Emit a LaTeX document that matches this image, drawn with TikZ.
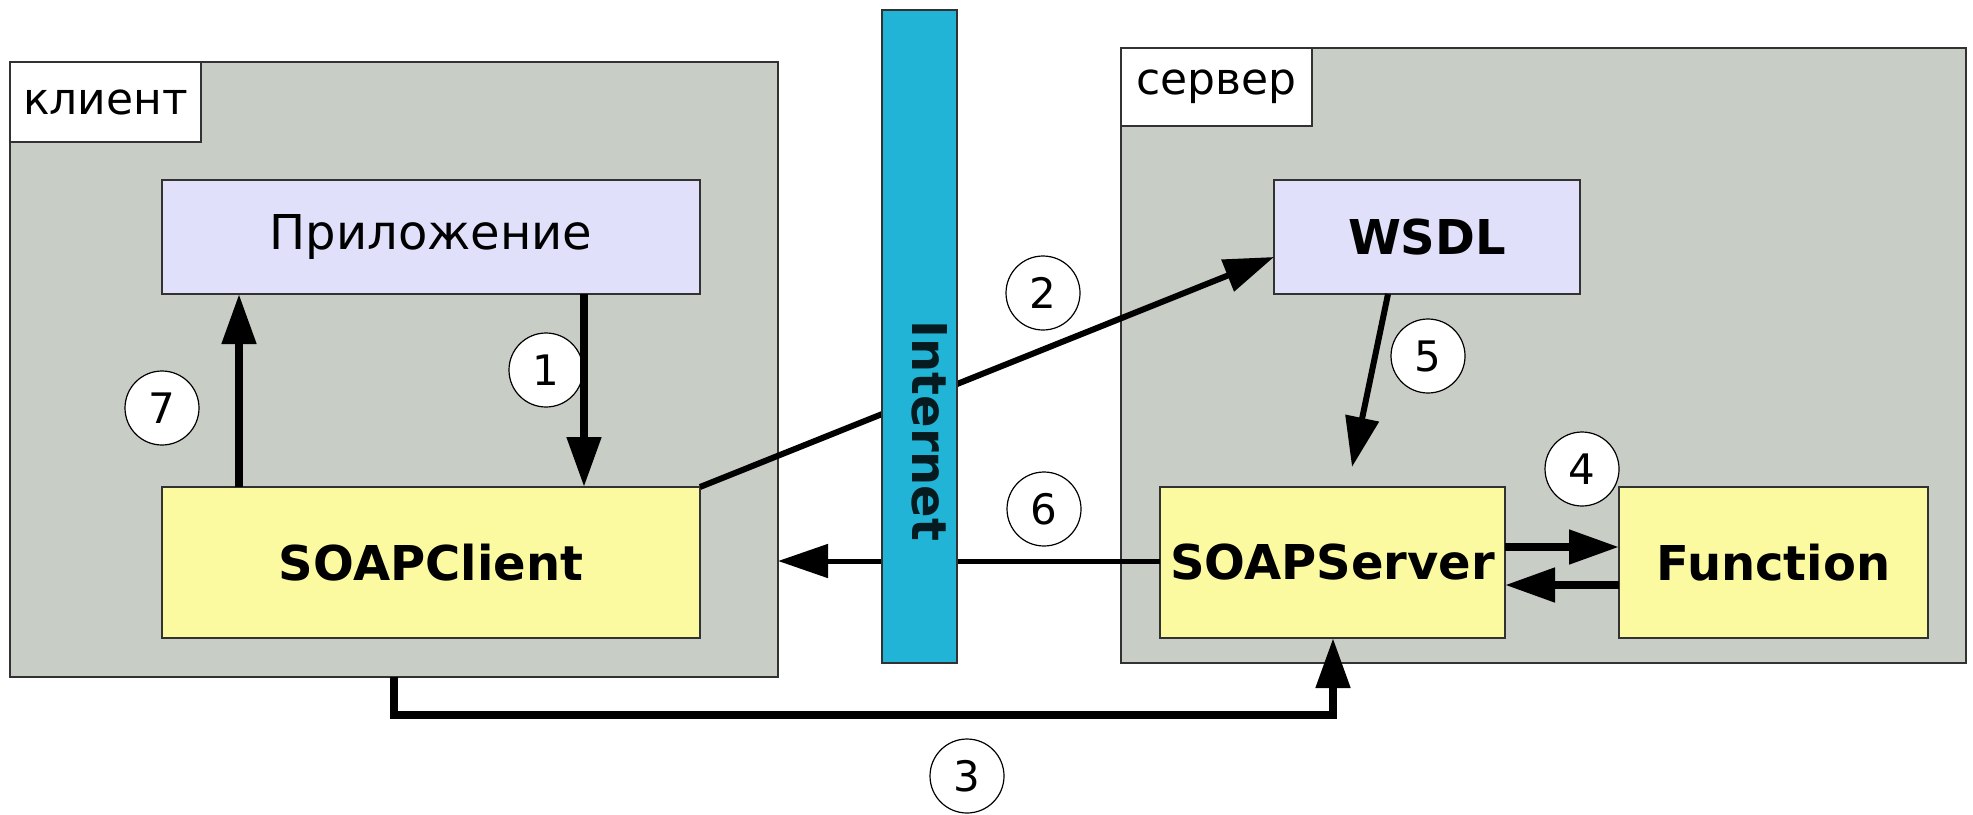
\documentclass[tikz,border=0pt]{standalone}
\usepackage{fontspec}
\setmainfont{DejaVu Sans}
\usetikzlibrary{arrows.meta}
\definecolor{bggray}{RGB}{200,205,198}
\definecolor{lav}{RGB}{224,224,250}
\definecolor{paleyel}{RGB}{252,250,160}
\definecolor{netblue}{RGB}{34,180,215}
\definecolor{edgegray}{RGB}{50,50,50}
\tikzset{
  area/.style={draw=edgegray, line width=1pt, fill=bggray, inner sep=0pt, outer sep=0pt},
  tag/.style={draw=edgegray, line width=1pt, fill=white, inner sep=0pt, outer sep=0pt,
    font=\fontsize{22pt}{26pt}\selectfont},
  blue box/.style={draw=edgegray, line width=1pt, fill=lav, inner sep=0pt, outer sep=0pt},
  yel box/.style={draw=edgegray, line width=1pt, fill=paleyel, inner sep=0pt, outer sep=0pt,
    font=\fontsize{24pt}{28pt}\selectfont\bfseries},
  num/.style={circle, draw=black, line width=0.6pt, fill=white, minimum size=37pt, inner sep=0pt,
    font=\fontsize{21pt}{25pt}\selectfont},
  arr/.style={-{Triangle[length=25pt,width=16.5pt]}, line width=4pt, black},
}
\begin{document}
\begin{tikzpicture}[x=0.5pt, y=-0.5pt]
\fill[white] (0,0) rectangle (1973,814);
\useasboundingbox (0,0) rectangle (1973,814);
% areas
\node[area, minimum width=384pt, minimum height=307.5pt] (client) at (394,369.5) {};
\node[area, minimum width=422.5pt, minimum height=307.5pt] (server) at (1543.5,355.5) {};
\node[tag, minimum width=95.5pt, minimum height=40pt] (clientlbl) at (105.5,102) {клиент};
\node[tag, minimum width=95.5pt, minimum height=39pt] (serverlbl) at (1216.5,87) {сервер};
% boxes
\node[blue box, minimum width=269pt, minimum height=57pt, font=\fontsize{24pt}{28pt}\selectfont] (app) at (431,237) {Приложение};
\node[yel box, minimum width=269pt, minimum height=75.5pt] (sclient) at (431,562.5) {SOAPClient};
\node[blue box, minimum width=153pt, minimum height=57pt, font=\fontsize{24pt}{28pt}\selectfont\bfseries] (wsdl) at (1427,237) {WSDL};
\node[yel box, minimum width=172.5pt, minimum height=75.5pt] (sserver) at (1332.5,562.5) {SOAPServer};
\node[yel box, minimum width=154.5pt, minimum height=75.5pt] (func) at (1773.5,562.5) {Function};
% step numbers
\node[num] (n1) at (546,370) {1};
\node[num] (n7) at (162,408) {7};
\node[num] (n2) at (1043,293) {2};
\node[num] (n5) at (1428,356) {5};
\node[num] (n4) at (1582,469) {4};
\node[num] (n6) at (1044,509) {6};
\node[num] (n3) at (967,776) {3};
% helper coordinates
\coordinate (a1) at (584,0);
\coordinate (a7) at (239,0);
\coordinate (w2) at ([yshift=-10pt]wsdl.west);
\coordinate (a5x) at (1388,0);
\coordinate (a5e) at (1352,467);
\coordinate (f1) at (0,547);
\coordinate (f2) at (0,585);
\coordinate (a6) at (0,561);
\coordinate (a3) at (394,715);
\coordinate (a3e) at (1333,0);
% connectors
\draw[arr] (app.south -| a1) -- (sclient.north -| a1);
\draw[arr] (sclient.north -| a7) -- (app.south -| a7);
\draw[arr, line width=3pt] (sclient.north east) -- (w2);
\draw[arr, line width=3pt] (wsdl.south -| a5x) -- (a5e);
\draw[arr] (sserver.east |- f1) -- (func.west |- f1);
\draw[arr] (func.west |- f2) -- (sserver.east |- f2);
\draw[arr, line width=2.5pt] (sserver.west |- a6) -- (client.east |- a6);
\draw[arr] (client.south -| a3) -- (a3) -| (sserver.south -| a3e);
% internet bar
\node[draw=edgegray, line width=1pt, fill=netblue, minimum width=37.5pt, minimum height=326.5pt, inner sep=0pt] (inet) at (919.5,336.5) {};
\node[rotate=-90, inner sep=0pt, font=\fontsize{24pt}{28pt}\selectfont\bfseries, text=black!85!netblue] (inettxt) at (929.5,431) {Internet};
\end{tikzpicture}
\end{document}
